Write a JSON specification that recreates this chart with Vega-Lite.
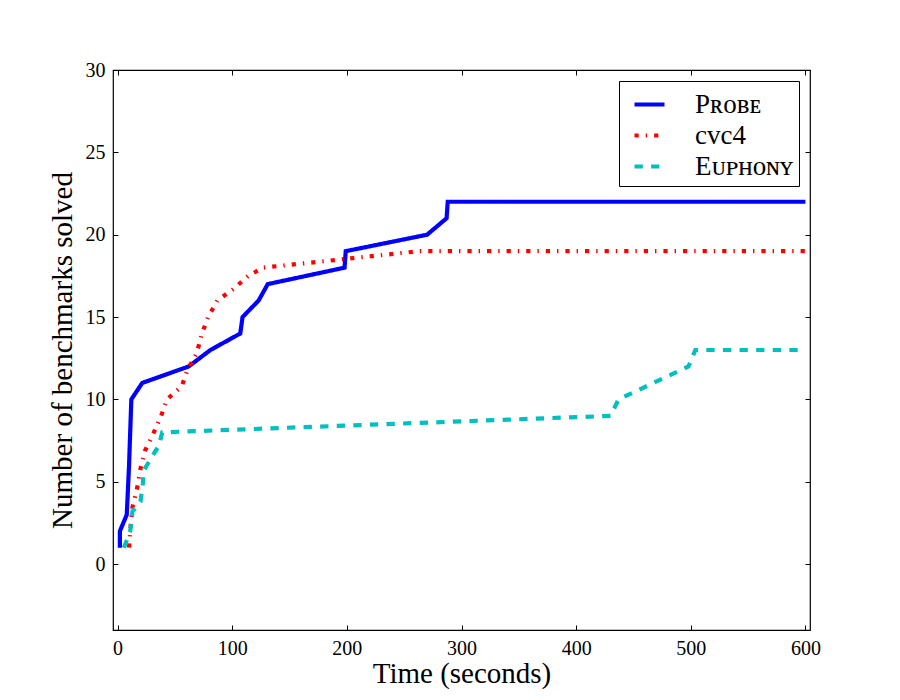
{
  "$schema": "https://vega.github.io/schema/vega-lite/v6.json",
  "width": 697,
  "height": 560,
  "autosize": {"type": "none"},
  "padding": {"left": 113, "top": 70, "right": 90, "bottom": 70},
  "background": "white",
  "config": {
    "font": "Liberation Serif",
    "view": {"stroke": "black", "strokeWidth": 1.2},
    "axis": {
      "grid": false,
      "domain": false,
      "tickColor": "black",
      "tickSize": -5,
      "labelPadding": 13,
      "labelFontSize": 20,
      "labelColor": "black",
      "titleColor": "black",
      "titleFontSize": 29,
      "titleFontWeight": "normal",
      "labelFont": "Liberation Serif",
      "titleFont": "Liberation Serif"
    }
  },
  "data": {
    "values": [
      {"s": "Probe", "i": 1, "t": 2, "n": 1},
      {"s": "Probe", "i": 2, "t": 2, "n": 2},
      {"s": "Probe", "i": 3, "t": 8, "n": 3},
      {"s": "Probe", "i": 4, "t": 10, "n": 6},
      {"s": "Probe", "i": 5, "t": 12, "n": 10},
      {"s": "Probe", "i": 6, "t": 21.5, "n": 11},
      {"s": "Probe", "i": 7, "t": 62, "n": 12},
      {"s": "Probe", "i": 8, "t": 81, "n": 13},
      {"s": "Probe", "i": 9, "t": 107, "n": 14},
      {"s": "Probe", "i": 10, "t": 109, "n": 15},
      {"s": "Probe", "i": 11, "t": 123, "n": 16},
      {"s": "Probe", "i": 12, "t": 131, "n": 17},
      {"s": "Probe", "i": 13, "t": 198, "n": 18},
      {"s": "Probe", "i": 14, "t": 199, "n": 19},
      {"s": "Probe", "i": 15, "t": 270, "n": 20},
      {"s": "Probe", "i": 16, "t": 287, "n": 21},
      {"s": "Probe", "i": 17, "t": 288, "n": 22},
      {"s": "Probe", "i": 18, "t": 600, "n": 22},
      {"s": "cvc4", "i": 1, "t": 10, "n": 1},
      {"s": "cvc4", "i": 2, "t": 11, "n": 2},
      {"s": "cvc4", "i": 3, "t": 12.8, "n": 3.4},
      {"s": "cvc4", "i": 4, "t": 17, "n": 4.6},
      {"s": "cvc4", "i": 5, "t": 20, "n": 5.8},
      {"s": "cvc4", "i": 6, "t": 24, "n": 6.9},
      {"s": "cvc4", "i": 7, "t": 31, "n": 7.9},
      {"s": "cvc4", "i": 8, "t": 38, "n": 9},
      {"s": "cvc4", "i": 9, "t": 43, "n": 10},
      {"s": "cvc4", "i": 10, "t": 56, "n": 10.8},
      {"s": "cvc4", "i": 11, "t": 61, "n": 11.8},
      {"s": "cvc4", "i": 12, "t": 69, "n": 12.8},
      {"s": "cvc4", "i": 13, "t": 73.6, "n": 14},
      {"s": "cvc4", "i": 14, "t": 79, "n": 15},
      {"s": "cvc4", "i": 15, "t": 87, "n": 16},
      {"s": "cvc4", "i": 16, "t": 101, "n": 16.7},
      {"s": "cvc4", "i": 17, "t": 114, "n": 17.5},
      {"s": "cvc4", "i": 18, "t": 127, "n": 18},
      {"s": "cvc4", "i": 19, "t": 195, "n": 18.5},
      {"s": "cvc4", "i": 20, "t": 263, "n": 19},
      {"s": "cvc4", "i": 21, "t": 600, "n": 19},
      {"s": "Euphony", "i": 1, "t": 5.5, "n": 1},
      {"s": "Euphony", "i": 2, "t": 11, "n": 2},
      {"s": "Euphony", "i": 3, "t": 13, "n": 3.2},
      {"s": "Euphony", "i": 4, "t": 20, "n": 3.8},
      {"s": "Euphony", "i": 5, "t": 22, "n": 4.9},
      {"s": "Euphony", "i": 6, "t": 23, "n": 5.7},
      {"s": "Euphony", "i": 7, "t": 29, "n": 6.4},
      {"s": "Euphony", "i": 8, "t": 36, "n": 7.2},
      {"s": "Euphony", "i": 9, "t": 39, "n": 8},
      {"s": "Euphony", "i": 10, "t": 430, "n": 9},
      {"s": "Euphony", "i": 11, "t": 437, "n": 10},
      {"s": "Euphony", "i": 12, "t": 443, "n": 10.2},
      {"s": "Euphony", "i": 13, "t": 498, "n": 12},
      {"s": "Euphony", "i": 14, "t": 504, "n": 13},
      {"s": "Euphony", "i": 15, "t": 600, "n": 13}
    ]
  },
  "layer": [
    {
      "mark": {"type": "line", "strokeWidth": 4.2, "strokeCap": "butt"},
      "encoding": {
        "x": {
          "field": "t",
          "type": "quantitative",
          "scale": {"domain": [-4, 604], "nice": false, "zero": false},
          "axis": {"values": [0, 100, 200, 300, 400, 500, 600], "title": "Time (seconds)", "titlePadding": 1}
        },
        "y": {
          "field": "n",
          "type": "quantitative",
          "scale": {"domain": [-4, 30], "nice": false, "zero": false},
          "axis": {"values": [0, 5, 10, 15, 20, 25, 30], "title": "Number of benchmarks solved", "titlePadding": 8}
        },
        "color": {
          "field": "s",
          "type": "nominal",
          "scale": {"domain": ["Probe", "cvc4", "Euphony"], "range": ["#0000ff", "#ff0000", "#00bfbf"]},
          "legend": {
            "title": null,
            "orient": "top-right",
            "offset": 11,
            "padding": 6,
            "strokeColor": "black",
            "fillColor": "white",
            "cornerRadius": 0,
            "symbolType": "stroke",
            "symbolSize": 900,
            "symbolOffset": 7,
            "symbolStrokeWidth": 4.2,
            "labelFontSize": 27,
            "labelFont": "Liberation Serif, DejaVu Serif",
            "labelColor": "black",
            "labelOffset": 28,
            "rowPadding": 0,
            "labelExpr": "datum.label == 'Probe' ? 'Pʀᴏʙᴇ' : datum.label == 'Euphony' ? 'Eᴜᴘʜᴏɴʏ' : datum.label"
          }
        },
        "strokeDash": {
          "field": "s",
          "type": "nominal",
          "scale": {"domain": ["Probe", "cvc4", "Euphony"], "range": [[1, 0], [4.2, 7, 1.4, 7], [8.3, 8.3]]}
        },
        "order": {"field": "i", "type": "quantitative"}
      }
    },
    {
      "mark": {"type": "point", "opacity": 0},
      "encoding": {
        "x": {"field": "t", "type": "quantitative", "axis": {"orient": "top", "labels": false, "title": null, "values": [0, 100, 200, 300, 400, 500, 600]}},
        "y": {"field": "n", "type": "quantitative", "axis": {"orient": "right", "labels": false, "title": null, "values": [0, 5, 10, 15, 20, 25, 30]}}
      }
    }
  ],
  "resolve": {"axis": {"x": "independent", "y": "independent"}}
}
